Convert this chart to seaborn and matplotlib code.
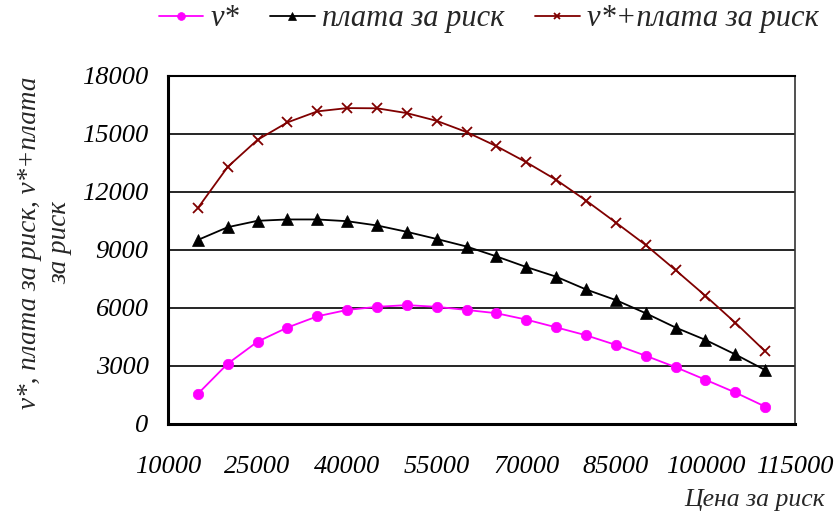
import matplotlib
matplotlib.use("Agg")
import matplotlib.pyplot as plt
from matplotlib.font_manager import FontProperties
import seaborn as sns
import pandas as pd

# ---- data ----
price = [15000, 20000, 25000, 30000, 35000, 40000, 45000, 50000, 55000, 60000,
         65000, 70000, 75000, 80000, 85000, 90000, 95000, 100000, 105000, 110000]
v_star = [1560, 3120, 4260, 4990, 5570, 5900, 6060, 6150, 6060, 5900,
          5730, 5400, 5000, 4590, 4090, 3530, 2940, 2290, 1630, 900]
risk_fee = [9520, 10180, 10510, 10580, 10580, 10490, 10270, 9940, 9570, 9180,
            8670, 8120, 7620, 6960, 6410, 5730, 4990, 4350, 3600, 2790]
total = [11170, 13300, 14700, 15600, 16170, 16340, 16330, 16080, 15680, 15100,
         14370, 13540, 12630, 11560, 10420, 9260, 7960, 6630, 5240, 3760]
series_names = ["v*", "плата за риск", "v*+плата за риск"]
x_ticks = [10000, 25000, 40000, 55000, 70000, 85000, 100000, 115000]
y_ticks = [0, 3000, 6000, 9000, 12000, 15000, 18000]

df = pd.DataFrame({
    "price": price * 3,
    "value": v_star + risk_fee + total,
    "series": [series_names[0]] * len(price) + [series_names[1]] * len(price) + [series_names[2]] * len(price),
})

sns.set_style("white")
plt.rcParams["font.family"] = ["Liberation Serif", "DejaVu Serif"]
plt.rcParams["font.style"] = "italic"

fig = plt.figure(figsize=(8.37, 5.2), dpi=100)
ax = fig.add_axes([168 / 837, 1 - 424 / 520, (795 - 168) / 837, (424 - 76) / 520])

colors = {series_names[0]: "#FF00FF", series_names[1]: "#000000", series_names[2]: "#800000"}
markers = {series_names[0]: "o", series_names[1]: "^", series_names[2]: "x"}
msizes = {series_names[0]: 7.5, series_names[1]: 8, series_names[2]: 6.5}

for name in series_names:
    sub = df[df["series"] == name]
    sns.lineplot(data=sub, x="price", y="value", ax=ax, color=colors[name],
                 marker=markers[name], markersize=msizes[name],
                 markeredgecolor=colors[name], markeredgewidth=1.3 if name == series_names[2] else 0.5,
                 linewidth=1.3, label=name, zorder=3)

ax.set_xlim(10000, 115000)
ax.set_ylim(0, 18000)
ax.set_xticks(x_ticks)
ax.set_yticks(y_ticks)
ax.set_xticklabels([str(t) for t in x_ticks])
ax.set_yticklabels([str(t) for t in y_ticks])
ax.yaxis.grid(True, color="black", linewidth=1.2)
ax.xaxis.grid(False)
ax.set_axisbelow(True)

for side in ["left", "bottom"]:
    ax.spines[side].set_color("black")
    ax.spines[side].set_linewidth(2.2)
ax.spines["top"].set_color("black")
ax.spines["top"].set_linewidth(1.5)
ax.spines["right"].set_color("#333333")
ax.spines["right"].set_linewidth(1.2)

ax.tick_params(axis="both", direction="out", length=6, width=2, color="black", labelcolor="black")
ax.tick_params(axis="x", pad=17)
ax.tick_params(axis="y", pad=8)

ax.set_xlabel("")
ax.set_ylabel("")

fig.text(45 / 837, 1 - 243 / 520, "v*, плата за риск, v*+плата\nза риск", rotation=90,
         ha="center", va="center", multialignment="center", fontsize=19.5,
         fontstyle="italic", linespacing=1.3)
fig.text(825 / 837, 1 - 500 / 520, "Цена за риск", ha="right", va="center",
         fontsize=18.5, fontstyle="italic")

leg = ax.legend(loc="center", bbox_to_anchor=(489 / 837, 1 - 19 / 520),
                bbox_transform=fig.transFigure, ncol=3, frameon=False,
                fontsize=22, handlelength=1.45, columnspacing=1.0, handletextpad=0.25,
                markerscale=0.75)
for t in leg.get_texts():
    t.set_fontstyle("italic")

tick_fp = FontProperties(family="Liberation Serif", style="italic", size=19)
for lbl in ax.get_xticklabels() + ax.get_yticklabels():
    lbl.set_fontproperties(tick_fp)

fig.savefig("out.png", dpi=100)
